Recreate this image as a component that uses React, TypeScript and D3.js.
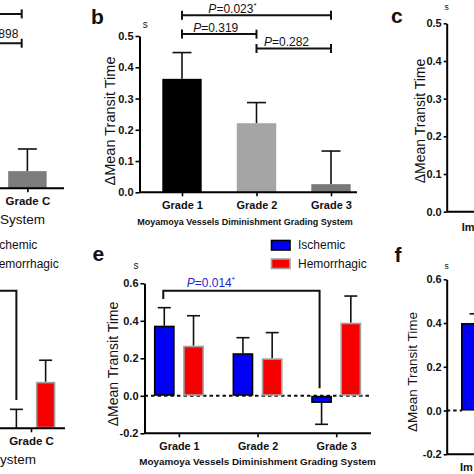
import { useEffect, useRef } from 'react';
import * as d3 from 'd3';

const W = 474;
const H = 474;
const FONT = '"Liberation Sans", Arial, Helvetica, sans-serif';

// panel b: single-series grades
const gradesB = ['Grade 1', 'Grade 2', 'Grade 3'];
const meanB = [0.363, 0.221, 0.026];
const semB = [0.084, 0.066, 0.106];
const fillB = ['#000000', '#a5a5a5', '#787878'];
const ticksB = [0, 0.1, 0.2, 0.3, 0.4, 0.5];

// panel e: ischemic vs hemorrhagic by grade
const gradesE = ['Grade 1', 'Grade 2', 'Grade 3'];
const groups = ['Ischemic', 'Hemorrhagic'];
const ischemicE = [0.374, 0.227, -0.038];
const ischemicSemE = [0.096, 0.083, 0.114];
const hemorrhagicE = [0.267, 0.2, 0.39];
const hemorrhagicSemE = [0.16, 0.137, 0.142];
const ticksE = [-0.2, 0, 0.2, 0.4, 0.6];

// panel a (cut off at the left edge)
const gradesA = ['Grade C'];
const meanA = [0.055];
const semA = [0.071];

// panel d (cut off at the left edge)
const gradesD = ['Grade C'];
const ischemicD = [0.0];
const ischemicSemD = [0.101];
const hemorrhagicD = [0.248];
const hemorrhagicSemD = [0.115];

// panel c / f (cut off at the right edge)
const ticksC = [0, 0.1, 0.2, 0.3, 0.4, 0.5];
const categoryCF = 'Im';
const ischemicF = [0.4];
const ischemicSemF = [0.042];
const ticksF = [-0.2, 0, 0.2, 0.4, 0.6];

const groupFill: Record<string, string> = { Ischemic: '#0000f5', Hemorrhagic: '#f50000' };
const groupStroke: Record<string, string> = { Ischemic: '#000000', Hemorrhagic: '#a0a0a0' };

export default function App() {
  const svgRef = useRef<SVGSVGElement>(null);

  useEffect(() => {
    const svg = d3.select(svgRef.current);
    svg.selectAll('*').remove();
    const g = svg.append('g').attr('font-family', FONT);

    const yAxis = (y: d3.ScaleLinear<number, number>, x: number, ticks: number[], size: number, tickLen: number) => {
      const ax = g.append('g').attr('transform', `translate(${x},0)`)
        .call(d3.axisLeft(y).tickValues(ticks).tickSize(tickLen).tickSizeOuter(0).tickPadding(2)
          .tickFormat((d) => (+d).toFixed(1)));
      ax.attr('font-family', FONT);
      ax.select('.domain').attr('stroke', '#000').attr('stroke-width', 2);
      ax.selectAll('.tick line').attr('stroke', '#000').attr('stroke-width', 1.6);
      ax.selectAll('.tick text').attr('fill', '#111').attr('font-size', size).attr('font-weight', 'bold');
    };

    const xAxis = (x: d3.ScalePoint<string>, x0: number, x1: number, yPos: number, size: number, labelY: number) => {
      g.append('line').attr('x1', x0).attr('x2', x1).attr('y1', yPos).attr('y2', yPos)
        .attr('stroke', '#000').attr('stroke-width', 2);
      const ax = g.append('g').attr('transform', `translate(0,${yPos})`)
        .call(d3.axisBottom(x).tickSize(4).tickSizeOuter(0).tickPadding(labelY));
      ax.attr('font-family', FONT);
      ax.select('.domain').remove();
      ax.selectAll('.tick line').attr('stroke', '#000').attr('stroke-width', 1.6);
      ax.selectAll('.tick text').attr('fill', '#111').attr('font-size', size).attr('font-weight', 'bold');
    };

    const bar = (cx: number, w: number, y: d3.ScaleLinear<number, number>, base: number, v: number, e: number,
      fill: string, stroke: string | null, capW: number) => {
      const yEnd = v >= base ? y(v + e) : y(v - e);
      g.append('line').attr('x1', cx).attr('x2', cx).attr('y1', y(v)).attr('y2', yEnd)
        .attr('stroke', '#111').attr('stroke-width', 1.6);
      g.append('line').attr('x1', cx - capW / 2).attr('x2', cx + capW / 2).attr('y1', yEnd).attr('y2', yEnd)
        .attr('stroke', '#111').attr('stroke-width', 1.6);
      const sw = stroke ? 1.6 : 0;
      g.append('rect')
        .attr('x', cx - w / 2 + sw / 2).attr('width', w - sw)
        .attr('y', Math.min(y(v), y(base)) + sw / 2).attr('height', Math.max(0, Math.abs(y(v) - y(base)) - sw))
        .attr('fill', fill).attr('stroke', stroke ?? 'none').attr('stroke-width', sw);
    };

    const label = (x: number, y: number, t: string, size: number, weight = 'normal', anchor = 'start', color = '#111') =>
      g.append('text').attr('x', x).attr('y', y).attr('font-size', size).attr('font-weight', weight)
        .attr('text-anchor', anchor).attr('fill', color).text(t);

    const yTitle = (x: number, y: number, size: number) =>
      g.append('text').attr('transform', `translate(${x},${y}) rotate(-90)`).attr('text-anchor', 'middle')
        .attr('font-size', size).attr('fill', '#111').text('ΔMean Transit Time');

    const pText = (x: number, y: number, value: string, star: boolean, color = '#111', anchor = 'start') => {
      const t = g.append('text').attr('x', x).attr('y', y).attr('font-size', 12).attr('fill', color).attr('text-anchor', anchor);
      t.append('tspan').attr('font-style', 'italic').text('P');
      t.append('tspan').text(`=${value}`);
      if (star) t.append('tspan').attr('dy', -5).attr('font-size', 8).text('*');
    };

    const sigBar = (x0: number, x1: number, yPos: number) => {
      g.append('line').attr('x1', x0).attr('x2', x1).attr('y1', yPos).attr('y2', yPos).attr('stroke', '#111').attr('stroke-width', 2);
      [x0, x1].forEach((xx) => g.append('line').attr('x1', xx).attr('x2', xx).attr('y1', yPos - 4.5).attr('y2', yPos + 4.5)
        .attr('stroke', '#111').attr('stroke-width', 2));
    };

    // ---------- panel a (left, cut) ----------
    const yA = d3.scaleLinear().domain([0, 0.5]).range([188.3, 32.3]);
    const xA = d3.scalePoint<string>().domain(gradesA).range([27.4, 27.4]);
    gradesA.forEach((gr, i) => bar(xA(gr)!, 38.5, yA, 0, meanA[i], semA[i], '#7d7d7d', null, 19));
    xAxis(xA, -5, 64, yA(0), 11.5, 5);
    label(45, 224, 'Suzuki Grading System', 13.5, 'normal', 'end');
    sigBar(-40, xA('Grade C')! - 5.7, yA(0.559));
    sigBar(-40, xA('Grade C')! - 5.7, yA(0.465));
    pText(18.3, 37.5, '0.898', false, '#111', 'end');

    // ---------- panel b ----------
    const yB = d3.scaleLinear().domain([0, 0.5]).range([192.3, 36]);
    const xB = d3.scalePoint<string>().domain(gradesB).range([182, 331]);
    gradesB.forEach((gr, i) => bar(xB(gr)!, 39.4, yB, 0, meanB[i], semB[i], fillB[i], null, 19));
    yAxis(yB, 139.5, ticksB, 11, 4);
    xAxis(xB, 139.5, 357, yB(0), 11, 5);
    label(245, 225, 'Moyamoya Vessels Diminishment Grading System', 9, 'bold', 'middle');
    yTitle(115, 121, 14.5);
    label(91, 24, 'b', 21, 'bold');
    label(145.3, 28.3, 's', 10, 'normal', 'middle');
    const bracketsB = [
      { a: 'Grade 1', b: 'Grade 3', level: 0.566, p: '0.023', star: true, at: 0.177 },
      { a: 'Grade 1', b: 'Grade 2', level: 0.506, p: '0.319', star: false, at: 0.15 },
      { a: 'Grade 2', b: 'Grade 3', level: 0.46, p: '0.282', star: false, at: 0.1 },
    ];
    bracketsB.forEach((br) => {
      const x0 = xB(br.a)!;
      const x1 = xB(br.b)!;
      sigBar(x0, x1, yB(br.level));
      pText(x0 + br.at * (x1 - x0), yB(br.level) - 2.3, br.p, br.star);
    });

    // ---------- panel d (left, cut) ----------
    const yD = d3.scaleLinear().domain([0, 0.8]).range([428.3, 278.3]);
    const xD = d3.scalePoint<string>().domain(gradesD).range([31, 31]);
    const subD = d3.scaleBand<string>().domain(groups).range([-25, 25]).paddingInner(0.29);
    g.append('path')
      .attr('d', `M${-20},${yD(0.734)}H${xD('Grade C')! + subD('Ischemic')! + subD.bandwidth() / 2}V${yD(0.151)}`)
      .attr('fill', 'none').attr('stroke', '#111').attr('stroke-width', 2);
    gradesD.forEach((gr, i) => {
      bar(xD(gr)! + subD('Ischemic')! + subD.bandwidth() / 2, 19.5, yD, 0, ischemicD[i], ischemicSemD[i], groupFill.Ischemic, groupStroke.Ischemic, 13);
      bar(xD(gr)! + subD('Hemorrhagic')! + subD.bandwidth() / 2, 19.5, yD, 0, hemorrhagicD[i], hemorrhagicSemD[i], groupFill.Hemorrhagic, groupStroke.Hemorrhagic, 13);
    });
    xAxis(xD, -5, 65, yD(0), 11.5, 5);
    label(36, 464, 'Suzuki Grading System', 13.5, 'normal', 'end');
    groups.forEach((gr, i) => {
      g.append('text').attr('x', -10).attr('y', 245.3 + i * 18.5).attr('dominant-baseline', 'central')
        .attr('font-size', 12).attr('fill', '#111').text(gr);
    });

    // ---------- panel e ----------
    const yE = d3.scaleLinear().domain([-0.2, 0.6]).range([433.3, 283.3]);
    const xE = d3.scalePoint<string>().domain(gradesE).range([178.9, 336.2]);
    const subE = d3.scaleBand<string>().domain(groups).range([-25, 25]).paddingInner(0.29);
    const cxE = (gr: string, s: string) => xE(gr)! + subE(s)! + subE.bandwidth() / 2;
    g.append('line').attr('x1', 144.5).attr('x2', 371).attr('y1', yE(0)).attr('y2', yE(0))
      .attr('stroke', '#111').attr('stroke-width', 2).attr('stroke-dasharray', '3.5,3');
    gradesE.forEach((gr, i) => {
      bar(cxE(gr, 'Ischemic'), subE.bandwidth(), yE, 0, ischemicE[i], ischemicSemE[i], groupFill.Ischemic, groupStroke.Ischemic, 13);
      bar(cxE(gr, 'Hemorrhagic'), subE.bandwidth(), yE, 0, hemorrhagicE[i], hemorrhagicSemE[i], groupFill.Hemorrhagic, groupStroke.Hemorrhagic, 13);
    });
    yAxis(yE, 144.5, ticksE, 11, 4);
    xAxis(xE, 144.5, 371, yE(-0.2), 10.8, 5);
    label(257.5, 465, 'Moyamoya Vessels Diminishment Grading System', 9.9, 'bold', 'middle');
    yTitle(118, 364, 14);
    label(92.5, 260.7, 'e', 21, 'bold');
    label(136, 269, 's', 10, 'normal', 'middle');
    const lvlE = yE(0.5605);
    g.append('path')
      .attr('d', `M${cxE('Grade 1', 'Ischemic') - 1},${yE(0.516)}V${lvlE}H${cxE('Grade 3', 'Ischemic') - 2}V${yE(0.04)}`)
      .attr('fill', 'none').attr('stroke', '#111').attr('stroke-width', 2);
    pText(186.7, 287.3, '0.014', true, '#2424d6');
    groups.forEach((gr, i) => {
      const yy = 240.5 + i * 18.5;
      g.append('rect').attr('x', 271.5).attr('y', yy).attr('width', 18.5).attr('height', 9.5)
        .attr('fill', groupFill[gr]).attr('stroke', groupStroke[gr]).attr('stroke-width', 1.6);
      g.append('text').attr('x', 298).attr('y', yy + 4.8).attr('dominant-baseline', 'central')
        .attr('font-size', 12).attr('fill', '#111').text(gr);
    });

    // ---------- panel c (right, cut) ----------
    const yC = d3.scaleLinear().domain([0, 0.5]).range([211.7, 23.3]);
    yAxis(yC, 446.7, ticksC, 11, 3);
    g.append('line').attr('x1', 446.7).attr('x2', W + 5).attr('y1', yC(0)).attr('y2', yC(0))
      .attr('stroke', '#000').attr('stroke-width', 2);
    yTitle(425, 121, 14);
    label(391, 23.3, 'c', 21, 'bold');
    label(446.7, 10, 's', 8.5, 'normal', 'middle');
    label(461.7, 230.7, categoryCF, 11, 'bold');

    // ---------- panel f (right, cut) ----------
    const yF = d3.scaleLinear().domain([-0.2, 0.6]).range([454.3, 279.3]);
    g.append('line').attr('x1', 446.7).attr('x2', 462).attr('y1', yF(0)).attr('y2', yF(0))
      .attr('stroke', '#111').attr('stroke-width', 2).attr('stroke-dasharray', '3.5,3');
    ischemicF.forEach((v, i) => bar(476, 30, yF, 0, v, ischemicSemF[i], groupFill.Ischemic, groupStroke.Ischemic, 13));
    yAxis(yF, 446.7, ticksF, 11, 3);
    g.append('line').attr('x1', 446.7).attr('x2', W + 5).attr('y1', yF(-0.2)).attr('y2', yF(-0.2))
      .attr('stroke', '#000').attr('stroke-width', 2);
    yTitle(416.7, 372, 13.5);
    label(394.5, 261.7, 'f', 21, 'bold');
    label(446.7, 269, 's', 8.5, 'normal', 'middle');
    label(460, 470.7, categoryCF, 11, 'bold');
  }, []);

  return (
    <div style={{ position: 'absolute', left: 0, top: 0, width: W, height: H, background: '#fff' }}>
      <svg ref={svgRef} width={W} height={H} viewBox={`0 0 ${W} ${H}`} style={{ display: 'block', overflow: 'hidden' }} />
    </div>
  );
}
